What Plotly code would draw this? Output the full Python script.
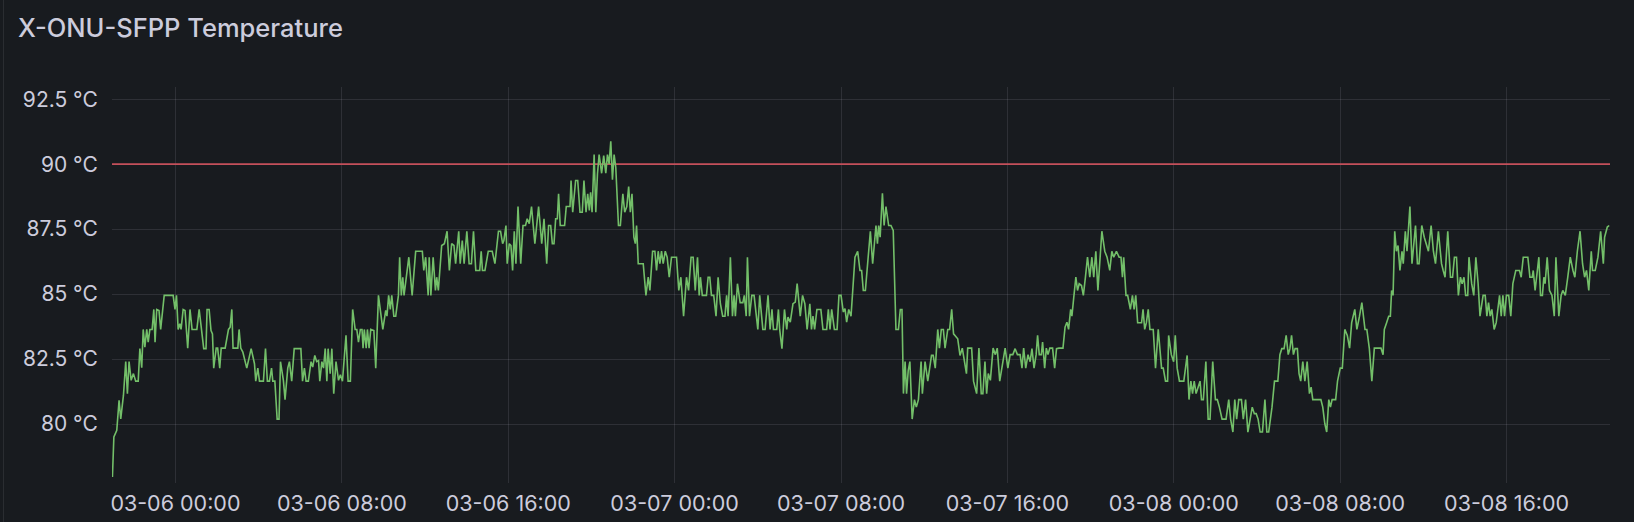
import plotly.graph_objects as go
import pandas as pd

# ---------------- data (hours since 03-06 00:00, temperature in °C) ----------------
seg_a_hours = [
    -3.03, -2.96, -2.82, -2.71, -2.63, -2.50, -2.39, -2.31, -2.23, -2.13,
    -2.02, -1.91, -1.79, -1.71, -1.62, -1.55, -1.47, -1.38, -1.31, -1.23,
    -1.12, -1.04, -0.98, -0.90, -0.79, -0.71, -0.54, -0.11, -0.02, 0.05,
    0.13, 0.21, 0.27, 0.37, 0.46, 0.59, 0.70, 0.80, 1.03, 1.14,
    1.36, 1.47, 1.52, 1.62, 1.71, 1.78, 1.84, 1.96, 2.03, 2.13,
    2.20, 2.39, 2.55, 2.63, 2.71, 2.77, 3.00, 3.06, 3.14, 3.24,
    3.43, 3.64, 3.80, 3.86, 3.96, 4.04, 4.23, 4.33, 4.42, 4.52,
    4.62, 4.68, 4.78, 4.89, 4.98, 5.05, 5.19, 5.27, 5.40, 5.48,
    5.59, 5.71, 6.03, 6.11, 6.20, 6.28, 6.39, 6.52, 6.60, 6.70,
    6.79, 6.88, 6.94, 7.04, 7.12, 7.20, 7.28, 7.34, 7.44, 7.52,
    7.61, 7.72, 7.84, 7.93, 8.03, 8.11, 8.20, 8.30, 8.41, 8.52,
    8.64, 8.72, 8.80, 8.89, 8.97, 9.02, 9.08, 9.17, 9.23, 9.31,
    9.39, 9.54, 9.63, 9.76, 9.97, 10.11, 10.17, 10.25, 10.33, 10.40,
    10.50, 10.59, 10.72, 10.78, 10.86, 10.93, 10.99,
]
seg_a_temps = [
    77.96, 79.50, 79.76, 80.91, 80.20, 81.10, 82.40, 81.17, 82.40, 81.68,
    81.94, 81.65, 81.65, 82.90, 82.17, 83.64, 82.96, 83.64, 83.15, 83.64,
    83.64, 84.41, 83.15, 84.41, 84.37, 83.64, 84.95, 84.95, 84.41, 84.95,
    83.64, 83.86, 83.64, 84.41, 84.37, 82.92, 84.41, 83.64, 83.64, 84.41,
    82.90, 82.90, 84.41, 84.41, 83.60, 83.47, 82.15, 82.92, 82.92, 82.15,
    82.92, 82.92, 83.64, 83.73, 84.41, 82.92, 82.92, 83.64, 82.92, 82.77,
    82.15, 82.90, 82.32, 81.65, 82.15, 81.65, 81.65, 82.90, 81.65, 81.65,
    82.15, 81.65, 81.65, 80.19, 80.19, 82.40, 81.68, 80.94, 82.15, 82.40,
    81.65, 82.90, 82.90, 81.65, 82.15, 81.65, 81.65, 82.40, 82.19, 82.64,
    82.40, 82.44, 81.65, 82.40, 82.15, 82.90, 81.65, 82.90, 81.94, 82.90,
    81.17, 82.40, 81.68, 81.90, 81.65, 82.68, 83.41, 81.65, 81.65, 84.41,
    83.64, 83.64, 83.15, 83.64, 83.64, 82.92, 83.64, 82.92, 83.64, 82.92,
    83.64, 83.60, 82.15, 84.95, 83.64, 84.37, 84.15, 84.95, 84.41, 84.95,
    84.15, 84.15, 84.95, 86.42, 84.95, 85.65, 84.95,
]

seg_b_hours = [
    11.22, 11.38, 11.55, 11.87, 11.94, 12.03, 12.15, 12.20, 12.28, 12.39,
    12.50, 12.56, 12.64, 12.80, 12.93, 13.06, 13.17, 13.28, 13.39, 13.47,
    13.62, 13.69, 13.79, 13.88, 14.01, 14.12, 14.23, 14.33, 14.44, 14.63,
    14.70, 14.76, 14.88, 15.04, 15.23, 15.36, 15.53, 15.63, 15.73, 15.79,
    15.89, 15.95, 16.05, 16.13, 16.21, 16.29, 16.37, 16.47, 16.60, 16.71,
    16.83, 16.91, 17.01, 17.12, 17.28, 17.46, 17.61, 17.72, 17.85, 17.94,
    18.04, 18.12, 18.20, 18.28, 18.36, 18.42, 18.50, 18.71, 18.79, 18.97,
    19.02, 19.10, 19.24, 19.34, 19.45, 19.56, 19.64, 19.74, 19.82, 19.90,
    19.96, 20.03, 20.13, 20.21, 20.29, 20.37, 20.49, 20.59, 20.69, 20.77,
    20.85, 20.93, 21.01, 21.09, 21.17, 21.30, 21.39, 21.51, 21.60, 21.70,
    21.79, 21.87, 21.95, 22.04, 22.11, 22.17, 22.25, 22.49, 22.62, 22.73,
    22.81, 22.94, 23.05, 23.13, 23.21, 23.29, 23.37, 23.45, 23.55, 23.64,
    23.74, 23.85, 24.09, 24.20, 24.30, 24.43, 24.57, 24.67, 24.79, 24.89,
    24.99, 25.10, 25.18,
]
seg_b_temps = [
    86.42, 84.95, 86.65, 86.65, 85.91, 86.42, 84.95, 86.42, 84.95, 86.42,
    85.14, 85.65, 85.14, 86.87, 86.94, 87.42, 85.91, 86.94, 86.87, 86.17,
    87.42, 86.17, 87.06, 86.17, 87.42, 86.17, 86.17, 87.42, 85.91, 85.91,
    86.65, 85.91, 85.91, 86.65, 86.65, 86.17, 87.42, 87.42, 86.94, 87.06,
    87.64, 86.17, 86.94, 86.87, 85.91, 87.42, 86.17, 88.37, 86.17, 87.64,
    87.64, 87.90, 87.71, 88.37, 86.94, 88.37, 86.94, 87.90, 86.17, 87.64,
    87.64, 86.94, 86.94, 87.90, 87.90, 88.86, 87.64, 87.64, 88.37, 88.37,
    89.37, 88.15, 89.37, 89.37, 88.15, 88.15, 89.37, 88.15, 88.86, 88.22,
    88.92, 88.15, 90.37, 88.15, 89.63, 90.37, 89.65, 90.33, 89.65, 90.37,
    90.01, 90.88, 89.40, 90.37, 89.88, 87.64, 87.64, 88.86, 88.15, 88.37,
    89.14, 88.15, 88.86, 87.19, 86.94, 87.64, 86.17, 86.17, 84.95, 85.65,
    85.14, 86.65, 86.65, 85.91, 86.65, 86.17, 86.65, 86.17, 86.65, 86.42,
    85.65, 86.42, 86.42, 85.14, 85.65, 84.15, 85.65, 85.14, 86.42, 86.42,
    85.14, 86.42, 84.95,
]

seg_c_hours = [
    25.24, 25.33, 25.53, 25.61, 25.69, 25.77, 25.88, 25.99, 26.09, 26.20,
    26.31, 26.42, 26.50, 26.57, 26.68, 26.78, 26.86, 26.92, 27.02, 27.15,
    27.28, 27.35, 27.44, 27.50, 27.60, 27.71, 27.82, 28.00, 28.09, 28.24,
    28.35, 28.49, 28.59, 28.68, 28.75, 28.91, 28.99, 29.05, 29.16, 29.28,
    29.39, 29.45, 29.56, 29.69, 29.80, 29.89, 30.04, 30.15, 30.26, 30.37,
    30.50, 30.58, 30.65, 30.73, 30.84, 31.03, 31.13, 31.31, 31.39, 31.47,
    31.55, 31.68, 31.81, 31.90, 32.00, 32.11, 32.19, 32.27, 32.37, 32.48,
    32.58, 32.67, 32.80, 32.91, 32.99, 33.07, 33.17, 33.28, 33.41, 33.52,
    33.68, 33.75, 33.81, 33.88, 33.99, 34.07, 34.16, 34.29, 34.40, 34.51,
    34.64, 34.76, 34.85, 34.93, 35.00, 35.08, 35.15, 35.23, 35.31, 35.42,
    35.53, 35.62, 35.72, 35.85, 35.91, 36.04, 36.17, 36.35, 36.43, 36.53,
    36.65, 36.73, 36.82, 36.92, 37.00, 37.13, 37.22, 37.32, 37.41, 37.61,
    37.72, 37.83, 37.96, 38.03, 38.09, 38.28, 38.37, 38.52, 38.63, 38.74,
    38.82, 38.92, 39.00, 39.08, 39.18, 39.31,
]
seg_c_temps = [
    85.65, 84.95, 84.95, 85.65, 85.65, 84.95, 84.95, 84.15, 85.65, 84.63,
    84.15, 84.15, 84.95, 84.15, 86.42, 84.15, 84.95, 84.15, 85.40, 84.67,
    84.67, 84.95, 84.15, 86.42, 84.15, 84.95, 84.95, 83.64, 84.95, 83.64,
    83.64, 84.95, 83.64, 84.41, 83.64, 83.64, 84.41, 83.64, 82.90, 84.41,
    83.64, 84.12, 83.92, 84.63, 84.69, 85.40, 84.15, 84.95, 84.63, 83.64,
    84.63, 83.64, 84.15, 83.64, 84.41, 84.41, 83.64, 83.64, 84.41, 83.64,
    84.41, 83.64, 83.64, 84.95, 84.95, 84.31, 84.44, 83.92, 84.41, 84.15,
    85.40, 86.42, 86.65, 85.91, 85.91, 85.14, 85.14, 86.17, 87.42, 86.17,
    87.64, 86.94, 87.64, 87.19, 88.88, 87.64, 88.37, 87.64, 87.64, 87.45,
    83.64, 83.64, 84.41, 84.41, 81.17, 82.40, 81.17, 82.06, 82.40, 80.19,
    80.94, 80.65, 80.94, 82.40, 81.17, 82.40, 81.65, 82.64, 82.64, 82.15,
    83.64, 82.92, 83.64, 83.64, 82.92, 83.64, 83.64, 84.41, 83.47, 83.28,
    82.64, 82.92, 82.15, 81.94, 82.92, 82.92, 81.65, 81.17, 82.92, 81.17,
    81.17, 82.40, 81.17, 81.94, 81.68, 82.92,
]

seg_d_hours = [
    39.42, 39.51, 39.63, 39.73, 39.89, 40.02, 40.13, 40.26, 40.37, 40.48,
    40.61, 40.70, 40.78, 40.88, 40.99, 41.09, 41.18, 41.28, 41.38, 41.45,
    41.53, 41.63, 41.69, 41.79, 41.87, 41.95, 42.04, 42.17, 42.27, 42.36,
    42.48, 42.67, 42.77, 42.86, 42.94, 43.04, 43.10, 43.19, 43.29, 43.37,
    43.45, 43.56, 43.65, 43.75, 43.85, 43.96, 44.06, 44.15, 44.25, 44.35,
    44.54, 44.68, 44.79, 44.92, 45.02, 45.11, 45.24, 45.37, 45.46, 45.53,
    45.59, 45.70, 45.78, 45.91, 46.01, 46.09, 46.17, 46.26, 46.45, 46.52,
    46.60, 46.68, 46.77, 46.85, 47.01, 47.12, 47.25, 47.41, 47.49, 47.60,
    47.70, 47.75, 47.88, 47.99, 48.07, 48.16, 48.27, 48.48, 48.64, 48.73,
    48.82, 48.90, 48.98, 49.07, 49.17, 49.26, 49.33, 49.42, 49.54, 49.65,
    49.74, 49.87, 50.00, 50.09, 50.19, 50.32, 50.51, 50.64, 50.73, 50.84,
    50.93, 51.02, 51.12, 51.25, 51.34, 51.45, 51.56, 51.66, 51.77, 51.87,
    51.96, 52.05, 52.15, 52.26, 52.38, 52.47, 52.56, 52.72, 52.84, 53.00,
    53.10, 53.19, 53.30, 53.40, 53.50,
]
seg_d_temps = [
    82.67, 82.92, 81.65, 82.15, 82.92, 82.15, 82.67, 82.67, 82.90, 82.67,
    82.67, 82.15, 82.92, 82.15, 82.67, 82.40, 82.90, 82.15, 82.67, 83.41,
    82.67, 82.67, 83.15, 82.15, 82.92, 82.67, 82.92, 82.92, 82.15, 82.90,
    82.92, 82.92, 83.73, 83.92, 83.64, 84.41, 84.15, 84.88, 85.65, 85.14,
    85.40, 85.33, 84.95, 85.65, 86.42, 85.65, 86.42, 85.65, 86.65, 85.14,
    87.42, 86.65, 86.42, 85.91, 86.65, 86.42, 86.65, 86.42, 86.42, 85.65,
    86.42, 84.95, 84.95, 84.41, 84.95, 84.41, 84.95, 83.90, 83.90, 84.41,
    83.64, 83.90, 84.41, 83.64, 83.64, 82.15, 83.64, 82.15, 82.15, 81.65,
    81.65, 83.41, 82.67, 82.40, 83.41, 82.15, 81.65, 81.65, 82.64, 80.94,
    81.65, 81.17, 81.65, 81.17, 81.42, 81.65, 80.94, 80.94, 82.40, 80.19,
    80.19, 82.40, 80.94, 80.94, 80.65, 80.19, 80.19, 80.94, 80.19, 79.69,
    80.94, 80.19, 80.94, 80.94, 80.19, 80.94, 79.69, 80.19, 80.65, 80.40,
    80.40, 80.19, 79.69, 79.69, 80.94, 79.69, 79.69, 80.65, 81.65, 81.65,
    82.67, 82.90, 82.90, 83.41, 82.67,
]

seg_e_hours = [
    53.58, 53.66, 53.75, 53.83, 53.94, 54.02, 54.10, 54.20, 54.30, 54.41,
    54.52, 54.60, 54.68, 55.07, 55.16, 55.26, 55.35, 55.45, 55.53, 55.61,
    55.78, 55.87, 56.00, 56.10, 56.22, 56.34, 56.45, 56.55, 56.70, 56.80,
    56.92, 57.04, 57.19, 57.28, 57.40, 57.52, 57.64, 57.96, 58.06, 58.12,
    58.23, 58.33, 58.41, 58.47, 58.54, 58.62, 58.70, 58.78, 58.87, 58.97,
    59.03, 59.13, 59.21, 59.35, 59.45, 59.62, 59.71, 59.79, 59.92, 60.04,
    60.24, 60.37, 60.48, 60.58, 60.72, 60.87, 60.95, 61.04, 61.17, 61.30,
    61.40, 61.49, 61.59, 61.68, 61.78, 61.86, 61.95, 62.03, 62.13, 62.19,
    62.32, 62.42, 62.52, 62.63, 62.72, 62.80, 62.87, 62.97, 63.05, 63.13,
    63.21, 63.29, 63.40, 63.50, 63.66, 63.74, 63.82, 63.90, 63.99, 64.10,
    64.20, 64.30, 64.44, 64.62, 64.70, 64.80, 65.02, 65.12, 65.23, 65.28,
    65.37, 65.55, 65.63, 65.72, 65.79, 65.85, 65.95, 66.06, 66.18, 66.29,
    66.37, 66.51, 66.62, 66.70, 66.82, 66.94, 67.06, 67.19, 67.28, 67.40,
    67.53, 67.65, 67.75, 67.84, 67.95, 68.07, 68.13, 68.26, 68.39, 68.52,
    68.65, 68.71, 68.84, 68.93,
]
seg_e_temps = [
    82.90, 83.41, 82.67, 82.90, 82.90, 81.94, 81.65, 82.40, 81.65, 82.40,
    81.17, 81.42, 80.94, 80.94, 80.65, 80.01, 79.69, 80.94, 80.65, 80.94,
    80.94, 81.65, 82.15, 82.15, 83.64, 83.41, 82.92, 83.90, 84.41, 83.64,
    84.12, 84.67, 83.64, 83.64, 82.90, 81.65, 82.92, 82.92, 82.67, 83.64,
    83.90, 84.15, 84.15, 85.14, 84.95, 87.42, 86.65, 86.87, 85.91, 86.65,
    86.17, 87.42, 86.65, 88.37, 86.17, 87.64, 86.17, 86.17, 87.64, 87.19,
    86.65, 87.64, 86.65, 86.17, 87.42, 86.17, 85.91, 85.65, 87.42, 85.65,
    85.65, 86.42, 86.42, 84.95, 85.65, 85.40, 85.65, 84.95, 84.95, 86.42,
    85.40, 84.95, 86.42, 85.40, 84.15, 84.67, 84.95, 84.95, 84.15, 84.67,
    84.15, 84.41, 83.64, 83.90, 84.95, 84.15, 84.95, 84.15, 84.95, 84.95,
    84.15, 85.40, 85.91, 85.91, 85.65, 86.42, 86.42, 85.65, 85.65, 85.91,
    85.14, 86.42, 84.95, 84.95, 85.65, 85.40, 86.42, 85.14, 84.95, 84.15,
    86.42, 84.15, 84.95, 85.14, 84.95, 85.65, 86.42, 85.91, 85.65, 86.65,
    87.42, 86.17, 85.65, 85.91, 85.14, 86.65, 85.91, 85.91, 86.42, 87.42,
    86.17, 87.19, 87.58, 87.64,
]

base_time = "2024-03-06 00:00"
time_range_hours = [-3.05, 68.97]
threshold = 90
y_range = [77.73, 92.97]
y_tick_values = [80, 82.5, 85, 87.5, 90, 92.5]
y_tick_labels = ["80 °C", "82.5 °C", "85 °C", "87.5 °C", "90 °C", "92.5 °C"]
title_text = "X-ONU-SFPP Temperature"

# ---------------- build ----------------
hours = seg_a_hours + seg_b_hours + seg_c_hours + seg_d_hours + seg_e_hours
temps = seg_a_temps + seg_b_temps + seg_c_temps + seg_d_temps + seg_e_temps
assert len(hours) == len(temps), (len(hours), len(temps))

base = pd.Timestamp(base_time)
times = [base + pd.Timedelta(hours=h) for h in hours]
x_range = [base + pd.Timedelta(hours=h) for h in time_range_hours]

W, H = 1634, 522
ML, MR, MT, MB = 112, 24, 87, 39
BG = "#181b1f"
TXT = "#ccccdc"
GRID = "rgba(204,204,220,0.12)"
FONT = "Inter, 'Noto Sans', sans-serif"
Y_TICK_SIZE = 21
X_TICK_SIZE = 21.5

fig = go.Figure()
fig.add_trace(go.Scatter(
    x=x_range, y=[threshold, threshold], mode="lines",
    line=dict(color="#c4505b", width=1.9),
    hoverinfo="skip", showlegend=False,
))
fig.add_trace(go.Scatter(
    x=times, y=temps, mode="lines",
    line=dict(color="#73bf69", width=1.6),
    showlegend=False, name="Temperature",
))

pw = W - ML - MR
ph = H - MT - MB
fig.add_shape(
    type="line", xref="paper", yref="paper",
    x0=(3.5 - ML) / pw, x1=(3.5 - ML) / pw,
    y0=(H - MB - 0) / ph, y1=(H - MB - H) / ph,
    line=dict(color="rgba(204,204,220,0.10)", width=1),
)

fig.update_layout(
    width=W, height=H, autosize=False,
    margin=dict(l=ML, r=MR, t=MT, b=MB, pad=0, autoexpand=False),
    paper_bgcolor=BG, plot_bgcolor=BG,
    font=dict(family=FONT, color=TXT, size=Y_TICK_SIZE),
    showlegend=False,
    title=dict(
        text=title_text, xref="container", yref="container",
        x=18 / W, xanchor="left", y=1 - 28 / H, yanchor="middle",
        font=dict(family=FONT, size=25.5, color=TXT, weight=500),
        automargin=False,
    ),
    xaxis=dict(
        type="date", range=x_range, automargin=False,
        tick0=base, dtick=8 * 3600 * 1000, tickformat="%m-%d %H:%M",
        showgrid=True, gridcolor=GRID, gridwidth=1,
        zeroline=False, showline=False,
        ticks="outside", ticklen=1, tickcolor="rgba(0,0,0,0)",
        tickfont=dict(family=FONT, size=X_TICK_SIZE, color=TXT),
    ),
    yaxis=dict(
        range=y_range, tickmode="array", automargin=False,
        tickvals=y_tick_values, ticktext=y_tick_labels,
        showgrid=True, gridcolor=GRID, gridwidth=1,
        zeroline=False, showline=False,
        ticks="outside", ticklen=9, tickcolor="rgba(0,0,0,0)",
        tickfont=dict(family=FONT, size=Y_TICK_SIZE, color=TXT),
    ),
)

fig.write_html(
    "out.html",
    config={"displayModeBar": False},
    post_script="document.body.style.margin='0';document.body.style.overflow='hidden';",
)
